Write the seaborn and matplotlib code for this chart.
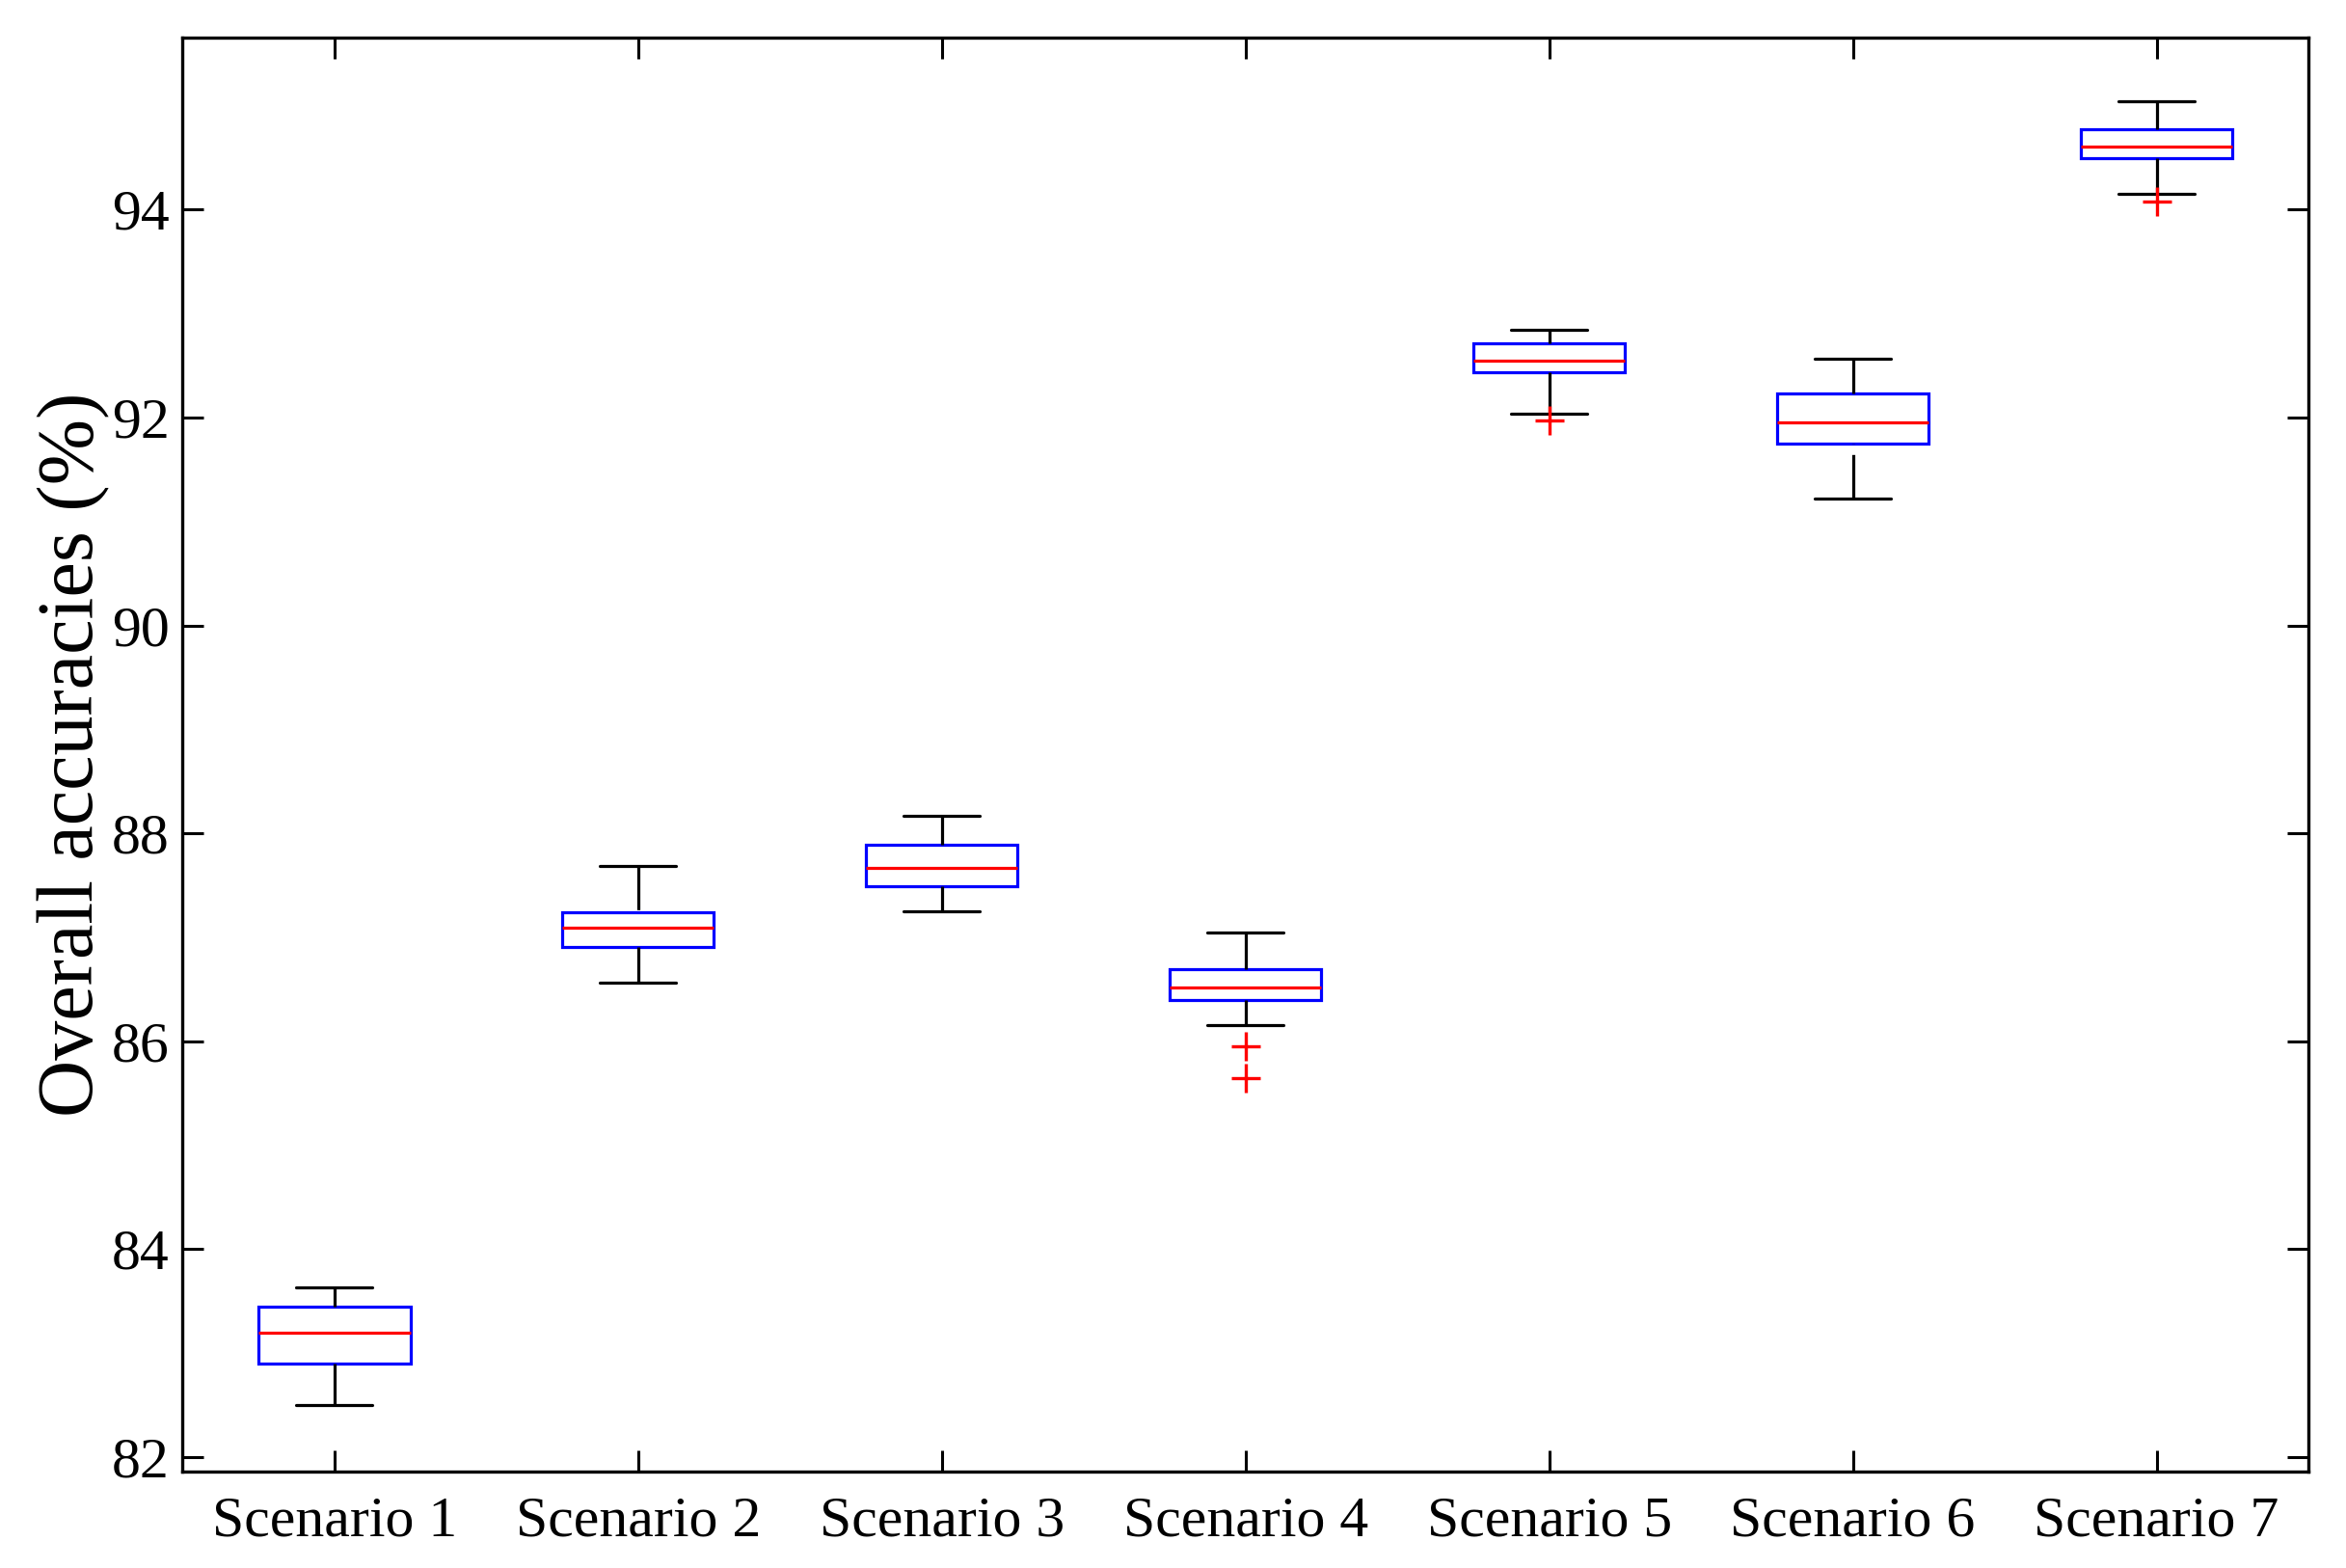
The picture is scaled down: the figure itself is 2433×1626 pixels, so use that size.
import matplotlib
matplotlib.use('Agg')
import matplotlib.pyplot as plt
import numpy as np
import pandas as pd
import seaborn as sns

# Values (box plot summaries)
scenarios = ['Scenario 1', 'Scenario 2', 'Scenario 3', 'Scenario 4',
             'Scenario 5', 'Scenario 6', 'Scenario 7']
whisker_low = [82.50, 86.56, 87.25, 86.16, 92.04, 91.22, 94.15]
q1 = [82.90, 86.91, 87.49, 86.40, 92.44, 91.75, 94.50]
medians = [83.20, 87.09, 87.67, 86.52, 92.55, 91.95, 94.61]
q3 = [83.45, 87.24, 87.89, 86.69, 92.71, 92.23, 94.77]
whisker_high = [83.63, 87.69, 88.17, 87.05, 92.84, 92.57, 95.04]
outliers = [[], [], [], [85.95, 85.65], [91.97], [], [94.08]]

yticks = [82, 84, 86, 88, 90, 92, 94]

sns.set_style('ticks')
plt.rcParams['font.family'] = ['Liberation Serif', 'DejaVu Serif']
plt.rcParams['text.color'] = 'black'
plt.rcParams['axes.labelcolor'] = 'black'
plt.rcParams['lines.scale_dashes'] = False

# Build samples whose quartiles / whiskers equal the summaries above,
# so seaborn can compute the boxes itself.
rows = []
for i, name in enumerate(scenarios):
    k = len(outliers[i])
    vals = (list(outliers[i]) + [whisker_low[i]] + [q1[i]] * 10 + [medians[i]]
            + [q3[i]] * 10 + [whisker_high[i]] * (k + 1))
    for v in vals:
        rows.append({'scenario': name, 'acc': v})
df = pd.DataFrame(rows)

fig = plt.figure(figsize=(24.33, 16.26), dpi=100)
ax = fig.add_axes([0.0778, 0.0615, 0.9062, 0.9143])

lw = 2.3
sns.boxplot(data=df, x='scenario', y='acc', order=scenarios, ax=ax,
            width=0.5, whis=1.5,
            boxprops=dict(facecolor='white', edgecolor='blue', linewidth=lw),
            medianprops=dict(color='red', linewidth=lw),
            whiskerprops=dict(color='black', linewidth=lw, gid='whisker'),
            capprops=dict(color='black', linewidth=lw),
            flierprops=dict(marker='+', markeredgecolor='red',
                            markerfacecolor='red', markersize=22,
                            markeredgewidth=2.4, linestyle='none'))

ax.set_xlim(-0.5, 6.5)
ax.set_ylim(81.861, 95.652)
ax.set_yticks(yticks)
ax.set_yticklabels([str(t) for t in yticks])
ax.set_xlabel('')
ax.set_ylabel('Overall accuracies (%)', fontsize=59, labelpad=1,
              color='black')

for side in ['top', 'right', 'bottom', 'left']:
    ax.spines[side].set_visible(True)
    ax.spines[side].set_linewidth(2.4)
    ax.spines[side].set_color('black')

ax.tick_params(axis='both', which='major', direction='in', length=16,
               width=2.2, color='black', labelsize=43, labelcolor='black',
               top=True, right=True)
ax.tick_params(axis='x', pad=18)
ax.tick_params(axis='y', pad=10)

# MATLAB-style dashed whiskers, dash pattern anchored at the cap end
on, off = 33.0, 8.0
for line in ax.lines:
    if line.get_gid() == 'whisker':
        xs, ys = line.get_xdata(), line.get_ydata()
        p = ax.transData.transform(np.column_stack([xs, ys]))
        length_pt = np.hypot(*(p[1] - p[0])) * 72.0 / fig.dpi
        offset = (on - length_pt) % (on + off)
        line.set_linestyle((offset, (on, off)))

fig.savefig('out.png', dpi=100)
